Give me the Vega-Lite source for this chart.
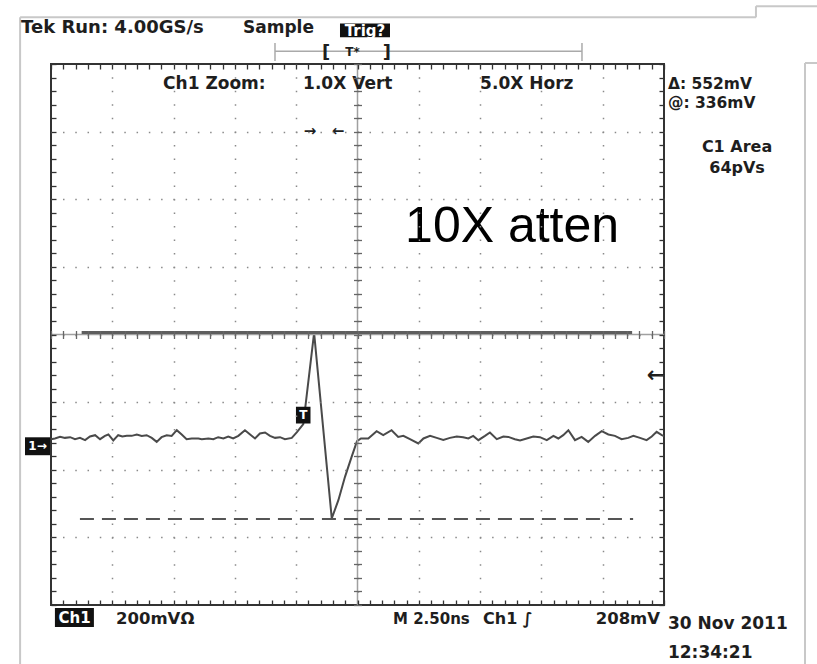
{
  "$schema": "https://vega.github.io/schema/vega-lite/v6.json",
  "width": 613,
  "height": 541,
  "autosize": {"type": "none"},
  "padding": {"left": 51, "top": 64, "right": 153, "bottom": 59},
  "background": "white",
  "data": {"values": [{}]},
  "config": {
    "view": {"stroke": "#333333", "strokeWidth": 2},
    "text": {"font": "DejaVu Sans", "fontWeight": "bold", "fontSize": 16, "fill": "#1e1e1e", "baseline": "alphabetic"}
  },
  "resolve": {"axis": {"x": "independent", "y": "independent"}},
  "layer": [
    {
      "data": {"values": [
        {"t": -12.5, "v": 20}, {"t": -12.34, "v": 22.5}, {"t": -12.13, "v": 27.2}, {"t": -11.93, "v": 24.3},
        {"t": -11.72, "v": 26.3}, {"t": -11.52, "v": 20.4}, {"t": -11.32, "v": 24.3}, {"t": -11.11, "v": 17.5},
        {"t": -10.91, "v": 28.4}, {"t": -10.7, "v": 32.2}, {"t": -10.5, "v": 20.4}, {"t": -10.3, "v": 30.2},
        {"t": -10.16, "v": 34.3}, {"t": -9.96, "v": 16.6}, {"t": -9.76, "v": 32.2}, {"t": -9.59, "v": 28.4},
        {"t": -9.41, "v": 30.2}, {"t": -9.21, "v": 30.2}, {"t": -9.0, "v": 34.3}, {"t": -8.8, "v": 30.2},
        {"t": -8.6, "v": 32.2}, {"t": -8.39, "v": 24.3}, {"t": -8.19, "v": 12.4}, {"t": -7.99, "v": 26.3},
        {"t": -7.78, "v": 32.2}, {"t": -7.58, "v": 30.2}, {"t": -7.37, "v": 47.0}, {"t": -7.17, "v": 34.3},
        {"t": -6.97, "v": 20.4}, {"t": -6.76, "v": 22.5}, {"t": -6.49, "v": 22.5}, {"t": -6.35, "v": 20.4},
        {"t": -6.08, "v": 22.5}, {"t": -5.88, "v": 20.4}, {"t": -5.68, "v": 26.3}, {"t": -5.47, "v": 22.5},
        {"t": -5.27, "v": 28.4}, {"t": -5.07, "v": 22.5}, {"t": -4.86, "v": 30.2}, {"t": -4.59, "v": 47.0},
        {"t": -4.38, "v": 34.3}, {"t": -4.18, "v": 22.5}, {"t": -3.98, "v": 37.3}, {"t": -3.77, "v": 40.2},
        {"t": -3.57, "v": 30.2}, {"t": -3.36, "v": 24.3}, {"t": -3.16, "v": 26.3}, {"t": -2.96, "v": 20.4},
        {"t": -2.68, "v": 24.3}, {"t": -2.47, "v": 41.1}, {"t": -2.21, "v": 64.8}, {"t": -1.77, "v": 335},
        {"t": -1.05, "v": -214}, {"t": -0.78, "v": -160}, {"t": -0.51, "v": -91}, {"t": -0.24, "v": -32},
        {"t": -0.02, "v": 14.5}, {"t": 0.14, "v": 22.5}, {"t": 0.44, "v": 22.5}, {"t": 0.78, "v": 44.1},
        {"t": 1.05, "v": 32.2}, {"t": 1.39, "v": 47.0}, {"t": 1.66, "v": 27.2}, {"t": 1.87, "v": 30.2},
        {"t": 2.14, "v": 20.4}, {"t": 2.48, "v": 7.7}, {"t": 2.69, "v": 22.5}, {"t": 2.96, "v": 30.2},
        {"t": 3.23, "v": 24.3}, {"t": 3.5, "v": 18.3}, {"t": 3.77, "v": 24.3}, {"t": 4.05, "v": 28.4},
        {"t": 4.31, "v": 26.3}, {"t": 4.52, "v": 22.5}, {"t": 4.72, "v": 30.2}, {"t": 4.93, "v": 17.5},
        {"t": 5.2, "v": 30.2}, {"t": 5.4, "v": 40.2}, {"t": 5.68, "v": 20.4}, {"t": 5.95, "v": 28.4},
        {"t": 6.15, "v": 27.2}, {"t": 6.42, "v": 20.4}, {"t": 6.63, "v": 16.6}, {"t": 6.9, "v": 22.5},
        {"t": 7.17, "v": 28.4}, {"t": 7.44, "v": 26.3}, {"t": 7.72, "v": 17.5}, {"t": 7.99, "v": 30.2},
        {"t": 8.19, "v": 22.5}, {"t": 8.39, "v": 32.2}, {"t": 8.6, "v": 47.0}, {"t": 8.87, "v": 17.5},
        {"t": 9.14, "v": 27.2}, {"t": 9.41, "v": 12.4}, {"t": 9.69, "v": 30.2}, {"t": 9.96, "v": 44.1},
        {"t": 10.23, "v": 34.3}, {"t": 10.5, "v": 30.2}, {"t": 10.77, "v": 20.4}, {"t": 11.04, "v": 24.3},
        {"t": 11.25, "v": 30.2}, {"t": 11.52, "v": 24.3}, {"t": 11.79, "v": 17.5}, {"t": 12.0, "v": 28.4},
        {"t": 12.2, "v": 42.0}, {"t": 12.41, "v": 32.2}, {"t": 12.5, "v": 30}
      ]},
      "mark": {"type": "line", "color": "#4a4a4a", "strokeWidth": 2},
      "encoding": {
        "x": {"field": "t", "type": "quantitative",
          "scale": {"domain": [-12.5, 12.5], "nice": false, "zero": false},
          "axis": {"orient": "bottom", "title": null, "labels": false, "domain": false,
            "values": [-12.5,-12,-11.5,-11,-10.5,-10,-9.5,-9,-8.5,-8,-7.5,-7,-6.5,-6,-5.5,-5,-4.5,-4,-3.5,-3,-2.5,-2,-1.5,-1,-0.5,0,0.5,1,1.5,2,2.5,3,3.5,4,4.5,5,5.5,6,6.5,7,7.5,8,8.5,9,9.5,10,10.5,11,11.5,12,12.5],
            "tickSize": -5, "tickColor": "#333333", "tickWidth": 1.3, "zindex": 1,
            "grid": true, "gridColor": "#8a8a8a", "gridWidth": 1.5, "gridDash": [1.5, 12.025], "gridDashOffset": 0.75,
            "gridOpacity": {"condition": {"test": "datum.value % 2.5 === 0 && abs(datum.value) < 12.5", "value": 1}, "value": 0}}},
        "y": {"field": "v", "type": "quantitative",
          "scale": {"domain": [-470, 1130], "nice": false, "zero": false},
          "axis": {"orient": "left", "title": null, "labels": false, "domain": false,
            "values": [-470,-430,-390,-350,-310,-270,-230,-190,-150,-110,-70,-30,10,50,90,130,170,210,250,290,330,370,410,450,490,530,570,610,650,690,730,770,810,850,890,930,970,1010,1050,1090,1130],
            "tickSize": -5, "tickColor": "#333333", "tickWidth": 1.3, "zindex": 1,
            "grid": true, "gridColor": "#8a8a8a", "gridWidth": 1.5, "gridDash": [1.5, 10.76], "gridDashOffset": 0.75,
            "gridOpacity": {"condition": {"test": "(datum.value - 330) % 200 === 0 && datum.value > -470 && datum.value < 1130", "value": 1}, "value": 0}}}
      }
    },
    {
      "mark": {"type": "rule", "color": "#a0a0a0", "strokeWidth": 1.5},
      "encoding": {
        "x": {"datum": 0,
          "axis": {"orient": "bottom", "offset": -266.5, "title": null, "labels": false, "domain": false, "grid": false,
            "values": [-12.5,-12,-11.5,-11,-10.5,-10,-9.5,-9,-8.5,-8,-7.5,-7,-6.5,-6,-5.5,-5,-4.5,-4,-3.5,-3,-2.5,-2,-1.5,-1,-0.5,0,0.5,1,1.5,2,2.5,3,3.5,4,4.5,5,5.5,6,6.5,7,7.5,8,8.5,9,9.5,10,10.5,11,11.5,12,12.5],
            "tickSize": -8, "tickColor": "#666666", "tickWidth": 1.3, "zindex": 1}}
      }
    },
    {
      "mark": {"type": "rule", "color": "#a0a0a0", "strokeWidth": 1.5},
      "encoding": {
        "y": {"datum": 330,
          "axis": {"orient": "left", "offset": -302.5, "title": null, "labels": false, "domain": false, "grid": false,
            "values": [-470,-430,-390,-350,-310,-270,-230,-190,-150,-110,-70,-30,10,50,90,130,170,210,250,290,330,370,410,450,490,530,570,610,650,690,730,770,810,850,890,930,970,1010,1050,1090,1130],
            "tickSize": -8, "tickColor": "#666666", "tickWidth": 1.3, "zindex": 1}}
      }
    },
    {
      "mark": {"type": "rule", "color": "#5e5e5e", "strokeWidth": 3},
      "encoding": {
        "x": {"datum": -11.25,
          "axis": {"orient": "top", "title": null, "labels": false, "domain": false, "grid": false,
            "values": [-12.5,-12,-11.5,-11,-10.5,-10,-9.5,-9,-8.5,-8,-7.5,-7,-6.5,-6,-5.5,-5,-4.5,-4,-3.5,-3,-2.5,-2,-1.5,-1,-0.5,0,0.5,1,1.5,2,2.5,3,3.5,4,4.5,5,5.5,6,6.5,7,7.5,8,8.5,9,9.5,10,10.5,11,11.5,12,12.5],
            "tickSize": -5, "tickColor": "#333333", "tickWidth": 1.3, "zindex": 1}},
        "x2": {"datum": 11.2},
        "y": {"datum": 336,
          "axis": {"orient": "right", "title": null, "labels": false, "domain": false, "grid": false,
            "values": [-470,-430,-390,-350,-310,-270,-230,-190,-150,-110,-70,-30,10,50,90,130,170,210,250,290,330,370,410,450,490,530,570,610,650,690,730,770,810,850,890,930,970,1010,1050,1090,1130],
            "tickSize": -5, "tickColor": "#333333", "tickWidth": 1.3, "zindex": 1}}
      }
    },
    {
      "mark": {"type": "rule", "color": "#555555", "strokeWidth": 2, "strokeDash": [14, 8]},
      "encoding": {"x": {"datum": -11.32, "axis": null}, "x2": {"datum": 11.24}, "y": {"datum": -216, "axis": null}}
    },
    {
      "mark": {"type": "rule", "color": "#c8c8c8", "strokeWidth": 2},
      "encoding": {"x": {"datum": -13.76, "axis": null}, "x2": {"datum": 16.25}, "y": {"datum": 1268, "axis": null}}
    },
    {
      "mark": {"type": "rule", "color": "#c8c8c8", "strokeWidth": 2},
      "encoding": {"x": {"datum": 16.25, "axis": null}, "y": {"datum": 1268, "axis": null}, "y2": {"datum": 1301}}
    },
    {
      "mark": {"type": "rule", "color": "#c8c8c8", "strokeWidth": 2},
      "encoding": {"x": {"datum": 16.25, "axis": null}, "x2": {"datum": 18.8}, "y": {"datum": 1301, "axis": null}}
    },
    {
      "mark": {"type": "rule", "color": "#c8c8c8", "strokeWidth": 2},
      "encoding": {"x": {"datum": -13.76, "axis": null}, "y": {"datum": 1268, "axis": null}, "y2": {"datum": -650}}
    },
    {
      "mark": {"type": "rule", "color": "#c8c8c8", "strokeWidth": 2},
      "encoding": {"x": {"datum": 18.25, "axis": null}, "y": {"datum": 1133, "axis": null}, "y2": {"datum": -650}}
    },
    {
      "mark": {"type": "rule", "color": "#c8c8c8", "strokeWidth": 2},
      "encoding": {"x": {"datum": 18.25, "axis": null}, "x2": {"datum": 18.8}, "y": {"datum": 1133, "axis": null}}
    },
    {
      "mark": {"type": "rule", "color": "#aaaaaa", "strokeWidth": 1.5},
      "encoding": {"x": {"datum": -3.365, "axis": null}, "x2": {"datum": 9.155}, "y": {"datum": 1168, "axis": null}}
    },
    {
      "mark": {"type": "rule", "color": "#aaaaaa", "strokeWidth": 1.5},
      "encoding": {"x": {"datum": -3.365, "axis": null}, "y": {"datum": 1192, "axis": null}, "y2": {"datum": 1139}}
    },
    {
      "mark": {"type": "rule", "color": "#aaaaaa", "strokeWidth": 1.5},
      "encoding": {"x": {"datum": 9.155, "axis": null}, "y": {"datum": 1192, "axis": null}, "y2": {"datum": 1139}}
    },
    {
      "mark": {"type": "text", "text": "[", "align": "center", "baseline": "middle", "fontSize": 18},
      "encoding": {"x": {"datum": -1.285, "axis": null}, "y": {"datum": 1164, "axis": null}}
    },
    {
      "mark": {"type": "text", "text": "]", "align": "center", "baseline": "middle", "fontSize": 18},
      "encoding": {"x": {"datum": 1.2, "axis": null}, "y": {"datum": 1164, "axis": null}}
    },
    {
      "mark": {"type": "text", "text": "T*", "align": "center", "baseline": "middle", "fontSize": 12},
      "encoding": {"x": {"datum": -0.2, "axis": null}, "y": {"datum": 1166, "axis": null}}
    },
    {
      "mark": {"type": "text", "text": "Tek Run: 4.00GS/s", "align": "left", "fontSize": 18},
      "encoding": {"x": {"datum": -13.72, "axis": null}, "y": {"datum": 1221.7, "axis": null}}
    },
    {
      "mark": {"type": "text", "text": "Sample", "align": "left", "fontSize": 17},
      "encoding": {"x": {"datum": -4.67, "axis": null}, "y": {"datum": 1221.7, "axis": null}}
    },
    {
      "mark": {"type": "rect", "color": "#111111"},
      "encoding": {"x": {"datum": -0.714, "axis": null}, "x2": {"datum": 1.325}, "y": {"datum": 1250, "axis": null}, "y2": {"datum": 1209}}
    },
    {
      "mark": {"type": "text", "text": "Trig?", "align": "center", "baseline": "middle", "fontSize": 15, "fill": "white"},
      "encoding": {"x": {"datum": 0.305, "axis": null}, "y": {"datum": 1229, "axis": null}}
    },
    {
      "mark": {"type": "text", "text": "Ch1 Zoom:", "align": "left", "fontSize": 17},
      "encoding": {"x": {"datum": -7.93, "axis": null}, "y": {"datum": 1054.6, "axis": null}}
    },
    {
      "mark": {"type": "text", "text": "1.0X Vert", "align": "left", "fontSize": 17},
      "encoding": {"x": {"datum": -2.22, "axis": null}, "y": {"datum": 1054.6, "axis": null}}
    },
    {
      "mark": {"type": "text", "text": "5.0X Horz", "align": "left", "fontSize": 17},
      "encoding": {"x": {"datum": 5.0, "axis": null}, "y": {"datum": 1054.6, "axis": null}}
    },
    {
      "mark": {"type": "text", "text": "→", "align": "center", "baseline": "middle", "fontSize": 15},
      "encoding": {"x": {"datum": -1.937, "axis": null}, "y": {"datum": 930.4, "axis": null}}
    },
    {
      "mark": {"type": "text", "text": "←", "align": "center", "baseline": "middle", "fontSize": 15},
      "encoding": {"x": {"datum": -0.795, "axis": null}, "y": {"datum": 930.4, "axis": null}}
    },
    {
      "mark": {"type": "text", "text": "Δ: 552mV", "align": "left", "fontSize": 15.5},
      "encoding": {"x": {"datum": 12.66, "axis": null}, "y": {"datum": 1056, "axis": null}}
    },
    {
      "mark": {"type": "text", "text": "@: 336mV", "align": "left", "fontSize": 15.5},
      "encoding": {"x": {"datum": 12.66, "axis": null}, "y": {"datum": 999, "axis": null}}
    },
    {
      "mark": {"type": "text", "text": "C1 Area", "align": "center", "fontSize": 16},
      "encoding": {"x": {"datum": 15.48, "axis": null}, "y": {"datum": 869, "axis": null}}
    },
    {
      "mark": {"type": "text", "text": "64pVs", "align": "center", "fontSize": 16},
      "encoding": {"x": {"datum": 15.48, "axis": null}, "y": {"datum": 808, "axis": null}}
    },
    {
      "mark": {"type": "text", "text": "10X atten", "align": "left", "fontSize": 50, "font": "Liberation Sans", "fontWeight": "normal", "fill": "#000000"},
      "encoding": {"x": {"datum": 1.94, "axis": null}, "y": {"datum": 604.4, "axis": null}}
    },
    {
      "mark": {"type": "rect", "color": "#111111"},
      "encoding": {"x": {"datum": -2.51, "axis": null}, "x2": {"datum": -1.917}, "y": {"datum": 116, "axis": null}, "y2": {"datum": 67}}
    },
    {
      "mark": {"type": "text", "text": "T", "align": "center", "baseline": "middle", "fontSize": 12, "fill": "white"},
      "encoding": {"x": {"datum": -2.21, "axis": null}, "y": {"datum": 91.5, "axis": null}}
    },
    {
      "mark": {"type": "rect", "color": "#111111"},
      "encoding": {"x": {"datum": -13.56, "axis": null}, "x2": {"datum": -12.54}, "y": {"datum": 26, "axis": null}, "y2": {"datum": -27}}
    },
    {
      "mark": {"type": "text", "text": "1→", "align": "center", "baseline": "middle", "fontSize": 12, "fill": "white"},
      "encoding": {"x": {"datum": -13.05, "axis": null}, "y": {"datum": 0, "axis": null}}
    },
    {
      "mark": {"type": "text", "text": "←", "align": "right", "baseline": "middle", "fontSize": 22},
      "encoding": {"x": {"datum": 12.55, "axis": null}, "y": {"datum": 210, "axis": null}}
    },
    {
      "mark": {"type": "rect", "color": "#111111"},
      "encoding": {"x": {"datum": -12.34, "axis": null}, "x2": {"datum": -10.75}, "y": {"datum": -479, "axis": null}, "y2": {"datum": -535}}
    },
    {
      "mark": {"type": "text", "text": "Ch1", "align": "center", "baseline": "middle", "fontSize": 15, "fill": "white"},
      "encoding": {"x": {"datum": -11.54, "axis": null}, "y": {"datum": -507, "axis": null}}
    },
    {
      "mark": {"type": "text", "text": "200mVΩ", "align": "left", "fontSize": 16.5},
      "encoding": {"x": {"datum": -9.85, "axis": null}, "y": {"datum": -526, "axis": null}}
    },
    {
      "mark": {"type": "text", "text": "M 2.50ns", "align": "left", "fontSize": 15},
      "encoding": {"x": {"datum": 1.447, "axis": null}, "y": {"datum": -526, "axis": null}}
    },
    {
      "mark": {"type": "text", "text": "Ch1 ∫", "align": "left", "fontSize": 16},
      "encoding": {"x": {"datum": 5.118, "axis": null}, "y": {"datum": -526, "axis": null}}
    },
    {
      "mark": {"type": "text", "text": "208mV", "align": "right", "fontSize": 16.5},
      "encoding": {"x": {"datum": 12.34, "axis": null}, "y": {"datum": -526, "axis": null}}
    },
    {
      "mark": {"type": "text", "text": "30 Nov 2011", "align": "left", "fontSize": 17},
      "encoding": {"x": {"datum": 12.66, "axis": null}, "y": {"datum": -541, "axis": null}}
    },
    {
      "mark": {"type": "text", "text": "12:34:21", "align": "left", "fontSize": 17},
      "encoding": {"x": {"datum": 12.66, "axis": null}, "y": {"datum": -626.8, "axis": null}}
    }
  ]
}
